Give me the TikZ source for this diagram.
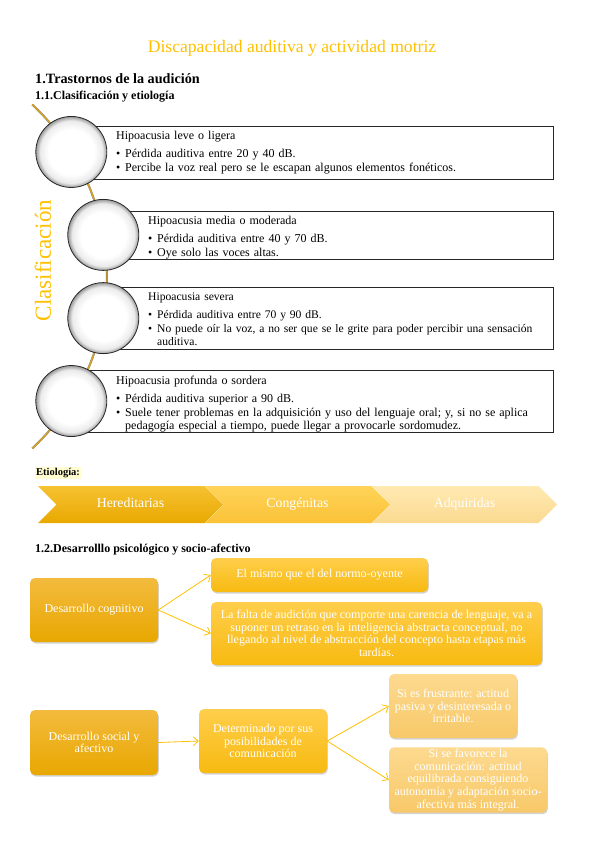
\documentclass[tikz,border=0pt]{standalone}
\usepackage{fontspec}
\setmainfont{Liberation Serif}
\usetikzlibrary{arrows.meta,shapes.symbols,shadows}
\definecolor{titlegold}{HTML}{FFC000}
\definecolor{chaingold}{HTML}{D9A521}
\definecolor{dkTop}{HTML}{F3BB3E}
\definecolor{dkBot}{HTML}{E8A700}
\definecolor{mdTop}{HTML}{FFCE4C}
\definecolor{mdBot}{HTML}{F7BA10}
\definecolor{plTop}{HTML}{FDDA90}
\definecolor{plBot}{HTML}{F7C868}
\definecolor{chAtop}{HTML}{F6C232}
\definecolor{chAbot}{HTML}{E8A800}
\definecolor{chBtop}{HTML}{FFD358}
\definecolor{chBbot}{HTML}{FAC238}
\definecolor{chCtop}{HTML}{FFE9B2}
\definecolor{chCbot}{HTML}{FBDA90}
\pgfdeclareradialshading{discrim}{\pgfpoint{0bp}{0bp}}{color(0bp)=(white); color(16bp)=(white); color(22bp)=(black!8); color(25bp)=(black!40); color(50bp)=(black!40)}
\newcommand{\bul}[1]{\par\vskip1.5pt\noindent\makebox[9pt][l]{\textbullet}\parbox[t]{410pt}{\raggedright#1}}
\tikzset{
  listbox/.style={draw=black!85, line width=0.8pt, fill=white, anchor=west, inner sep=0pt},
  disc/.style={circle, minimum size=71pt, inner sep=0pt, draw=black!85, line width=0.8pt, shading=discrim},
  listtext/.style={anchor=north west, inner sep=0pt, text width=430pt, align=left,
    font=\fontsize{12}{13}\selectfont},
  chev/.style={signal, signal from=west, signal to=east, minimum width=185pt,
    minimum height=37pt, inner sep=0pt, text=white, text height=9pt, text depth=3pt,
    font=\fontsize{13.8}{15}\selectfont},
  flow/.style={rounded corners=5pt, inner sep=2pt, align=center, text=white,
    font=\fontsize{12}{12.6}\selectfont,
    drop shadow={shadow xshift=0.8pt, shadow yshift=-1.5pt, opacity=0.35}},
  dark/.style={flow, top color=dkTop, bottom color=dkBot},
  mid/.style={flow, top color=mdTop, bottom color=mdBot},
  pale/.style={flow, top color=plTop, bottom color=plBot},
  arrowline/.style={draw=titlegold, line width=0.8pt, >={Straight Barb[length=5pt,width=9pt]}}
}
\begin{document}
\begin{tikzpicture}[x=1pt, y=-1pt]
  \useasboundingbox (0,0) rectangle (599,848);
  % headings
  \node[text=titlegold, font=\fontsize{17.6}{20}\selectfont] (title) at (292,48)
    {Discapacidad auditiva y actividad motriz};
  \node[anchor=west, inner sep=0pt, font=\bfseries\fontsize{14.2}{16}\selectfont] (sec1) at (35,79)
    {1.Trastornos de la audición};
  \node[anchor=west, inner sep=0pt, font=\bfseries\fontsize{12}{14}\selectfont] (sec11) at (35,97)
    {1.1.Clasificación y etiología};

  % clasificacion: chain, boxes, circles
  \coordinate (hub) at (-128,276.5);
  \draw[draw=black!55, line width=0.3pt, double=chaingold, double distance=1.4pt]
    (hub) ++(-47:235) arc[start angle=-47, end angle=47, radius=235];
  \node[listbox, minimum width=482pt, minimum height=53pt] (box1) at (71,152.5) {};
  \node[listbox, minimum width=450pt, minimum height=48pt] (box2) at (103,235) {};
  \node[listbox, minimum width=450pt, minimum height=62pt] (box3) at (103,318) {};
  \node[listbox, minimum width=482pt, minimum height=62pt] (box4) at (71,401) {};
  \path (hub) ++(-32:235) node[disc] (c1) {}
        (hub) ++(-10.2:235) node[disc] (c2) {}
        (hub) ++(10.2:235) node[disc] (c3) {}
        (hub) ++(32:235) node[disc] (c4) {};
  \node[rotate=90, text=titlegold, font=\fontsize{23}{27}\selectfont] (clasif) at (43,260.5) {Clasificación};

  \node[listtext] (txt1) at (116,131) {Hipoacusia leve o ligera\vskip3pt
    \bul{Pérdida auditiva entre 20 y 40 dB.}
    \bul{Percibe la voz real pero se le escapan algunos elementos fonéticos.}};
  \node[listtext] (txt2) at (148,216) {Hipoacusia media o moderada\vskip3pt
    \bul{Pérdida auditiva entre 40 y 70 dB.}
    \bul{Oye solo las voces altas.}};
  \node[listtext, font=\fontsize{11.6}{13}\selectfont] (txt3) at (148,293) {Hipoacusia severa\vskip3pt
    \bul{Pérdida auditiva entre 70 y 90 dB.}
    \bul{No puede oír la voz, a no ser que se le grite para poder percibir una sensación\\auditiva.}};
  \node[listtext] (txt4) at (116,376) {Hipoacusia profunda o sordera\vskip3pt
    \bul{Pérdida auditiva superior a 90 dB.}
    \bul{Suele tener problemas en la adquisición y uso del lenguaje oral; y, si no se aplica\\pedagogía especial a tiempo, puede llegar a provocarle sordomudez.}};

  % etiologia
  \node[anchor=west, inner sep=1pt, fill=yellow!18, font=\bfseries\fontsize{10.5}{12}\selectfont] (etio) at (35,473) {Etiología:};
  \node[chev, top color=chCtop, bottom color=chCbot] (adq) at (464.5,504.5) {Adquiridas};
  \node[chev, top color=chBtop, bottom color=chBbot] (cong) at (297.5,504.5) {Congénitas};
  \node[chev, top color=chAtop, bottom color=chAbot] (here) at (130.5,504.5) {Hereditarias};

  % desarrollo psicologico
  \node[anchor=west, inner sep=0pt, font=\bfseries\fontsize{12}{14}\selectfont] (sec12) at (35,550)
    {1.2.Desarrolllo psicológico y socio-afectivo};
  \node[dark, minimum width=128pt, minimum height=64pt] (cog) at (94,610) {Desarrollo cognitivo};
  \node[mid, minimum width=217pt, minimum height=34pt] (mismo) at (319.5,575) {El mismo que el del normo-oyente};
  \node[mid, minimum width=331pt, minimum height=63pt] (falta) at (376.5,633.5)
    {La falta de audición que comporte una carencia de lenguaje, va a\\
     suponer un retraso en la inteligencia abstracta conceptual, no\\
     llegando al nivel de abstracción del concepto hasta etapas más\\
     tardías.};
  \node[dark, minimum width=128pt, minimum height=65pt] (social) at (94,742.5) {Desarrollo social y\\afectivo};
  \node[mid, minimum width=128pt, minimum height=64pt] (det) at (263,741)
    {Determinado por sus\\posibilidades de\\comunicación};
  \node[pale, minimum width=128pt, minimum height=64pt] (frus) at (453,706)
    {Si es frustrante: actitud\\pasiva y desinteresada o\\irritable.};
  \node[pale, minimum width=158pt, minimum height=64pt] (fav) at (468,780)
    {Si se favorece la\\comunicación: actitud\\equilibrada consiguiendo\\autonomía y adaptación socio-\\afectiva más integral.};
  \begin{scope}[->, arrowline]
    \draw (cog.east) to (mismo.west);
    \draw (cog.east) to (falta.west);
    \draw (social.east) to (det.west);
    \draw (det.east) to (frus.west);
    \draw (det.east) to (fav.west);
  \end{scope}
\end{tikzpicture}
\end{document}
